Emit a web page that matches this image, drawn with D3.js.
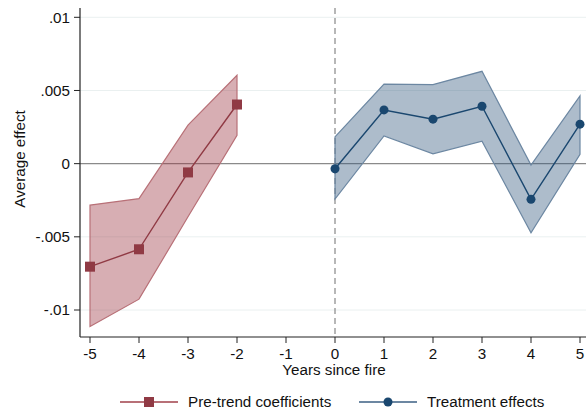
<!DOCTYPE html>
<html lang="en">
<head>
<meta charset="UTF-8">
<title>Event study</title>
<script src="https://d3js.org/d3.v7.min.js"></script>
<style>
  body { margin: 0; background: #fff; }
  text { font-family: "Liberation Sans", Arial, sans-serif; fill: #111; }
</style>
</head>
<body>
<svg width="586" height="413"></svg>
<script>
// pre-trend coefficients
const preYears = [-5, -4, -3, -2];
const preEst   = [-0.00704, -0.00585, -0.0006, 0.00404];
const preLo    = [-0.01113, -0.00926, -0.00363, 0.00194];
const preHi    = [-0.00283, -0.00239, 0.00263, 0.00604];
// treatment effects
const postYears = [0, 1, 2, 3, 4, 5];
const postEst   = [-0.00035, 0.00367, 0.00304, 0.00392, -0.00244, 0.0027];
const postLo    = [-0.00242, 0.0019, 0.00067, 0.00153, -0.00472, 0.00063];
const postHi    = [0.00183, 0.00544, 0.0054, 0.00631, -0.0001, 0.00463];

const xTicks = [-5, -4, -3, -2, -1, 0, 1, 2, 3, 4, 5];
const yTicks = [0.01, 0.005, 0, -0.005, -0.01];
const yLabels = [".01", ".005", "0", "-.005", "-.01"];

const svg = d3.select("svg");
const plot = {left: 80, right: 586, top: 8, bottom: 337};
const fs = 15.2;

const x = d3.scaleLinear().domain([-5, 5]).range([90, 580]);
const y = d3.scaleLinear().domain([-0.01, 0.01]).range([310, 17.3]);

// light grid lines
svg.append("g").selectAll("line")
  .data(yTicks.filter(d => d !== 0))
  .join("line")
  .attr("x1", plot.left).attr("x2", plot.right)
  .attr("y1", d => y(d)).attr("y2", d => y(d))
  .attr("stroke", "#eaf0f0").attr("stroke-width", 1);

// zero line
svg.append("line")
  .attr("x1", plot.left).attr("x2", plot.right)
  .attr("y1", y(0)).attr("y2", y(0))
  .attr("stroke", "#8a8a8a").attr("stroke-width", 1.2);

// dashed vertical at 0
svg.append("line")
  .attr("x1", x(0)).attr("x2", x(0))
  .attr("y1", plot.top).attr("y2", plot.bottom)
  .attr("stroke", "#888").attr("stroke-width", 1.2)
  .attr("stroke-dasharray", "6,4");

function drawSeries(years, est, lo, hi, col, fill, edge, shape) {
  const rows = years.map((d, i) => ({yr: d, e: est[i], lo: lo[i], hi: hi[i]}));
  const area = d3.area().x(d => x(d.yr)).y0(d => y(d.lo)).y1(d => y(d.hi));
  svg.append("path").datum(rows)
    .attr("d", area)
    .attr("fill", fill).attr("fill-opacity", 0.4)
    .attr("stroke", edge).attr("stroke-width", 1.2);
  const line = d3.line().x(d => x(d.yr)).y(d => y(d.e));
  svg.append("path").datum(rows)
    .attr("d", line).attr("fill", "none")
    .attr("stroke", col).attr("stroke-width", 1.4);
  if (shape === "square") {
    svg.append("g").selectAll("rect").data(rows).join("rect")
      .attr("x", d => x(d.yr) - 5).attr("y", d => y(d.e) - 5)
      .attr("width", 10).attr("height", 10).attr("fill", col);
  } else {
    svg.append("g").selectAll("circle").data(rows).join("circle")
      .attr("cx", d => x(d.yr)).attr("cy", d => y(d.e))
      .attr("r", 4.5).attr("fill", col);
  }
}

drawSeries(preYears, preEst, preLo, preHi, "#903a44", "#9c3440", "#b87077", "square");
drawSeries(postYears, postEst, postLo, postHi, "#1a476f", "#33577c", "#6c87a2", "circle");

// axes
svg.append("line")
  .attr("x1", plot.left).attr("x2", plot.left)
  .attr("y1", plot.top).attr("y2", plot.bottom)
  .attr("stroke", "#222").attr("stroke-width", 1.2);
svg.append("line")
  .attr("x1", plot.left).attr("x2", plot.right)
  .attr("y1", plot.bottom).attr("y2", plot.bottom)
  .attr("stroke", "#222").attr("stroke-width", 1.2);

const yAxis = svg.append("g");
yTicks.forEach((t, i) => {
  yAxis.append("line")
    .attr("x1", plot.left - 6).attr("x2", plot.left)
    .attr("y1", y(t)).attr("y2", y(t))
    .attr("stroke", "#222").attr("stroke-width", 1);
  yAxis.append("text")
    .attr("x", plot.left - 10).attr("y", y(t))
    .attr("dy", "0.35em").attr("text-anchor", "end")
    .attr("font-size", fs).text(yLabels[i]);
});

const xAxis = svg.append("g");
xTicks.forEach(t => {
  xAxis.append("line")
    .attr("x1", x(t)).attr("x2", x(t))
    .attr("y1", plot.bottom).attr("y2", plot.bottom + 6)
    .attr("stroke", "#222").attr("stroke-width", 1);
  xAxis.append("text")
    .attr("x", x(t)).attr("y", plot.bottom + 22)
    .attr("text-anchor", "middle")
    .attr("font-size", fs).text(t);
});

svg.append("text")
  .attr("x", 334).attr("y", 375)
  .attr("text-anchor", "middle").attr("font-size", fs)
  .text("Years since fire");

svg.append("text")
  .attr("transform", "translate(24.5,159) rotate(-90)")
  .attr("text-anchor", "middle").attr("font-size", fs)
  .text("Average effect");

// legend
const legend = [
  {label: "Pre-trend coefficients", col: "#903a44", edge: "#b87077", x0: 120, shape: "square"},
  {label: "Treatment effects", col: "#1a476f", edge: "#6c87a2", x0: 359, shape: "circle"}
];
legend.forEach(l => {
  const g = svg.append("g");
  g.append("line").attr("x1", l.x0).attr("x2", l.x0 + 58)
    .attr("y1", 402).attr("y2", 402)
    .attr("stroke", l.edge).attr("stroke-width", 2);
  if (l.shape === "square") {
    g.append("rect").attr("x", l.x0 + 24).attr("y", 397)
      .attr("width", 10).attr("height", 10).attr("fill", l.col);
  } else {
    g.append("circle").attr("cx", l.x0 + 29).attr("cy", 402)
      .attr("r", 4.5).attr("fill", l.col);
  }
  g.append("text").attr("x", l.x0 + 68).attr("y", 402)
    .attr("dy", "0.35em").attr("font-size", fs).text(l.label);
});
</script>
</body>
</html>
